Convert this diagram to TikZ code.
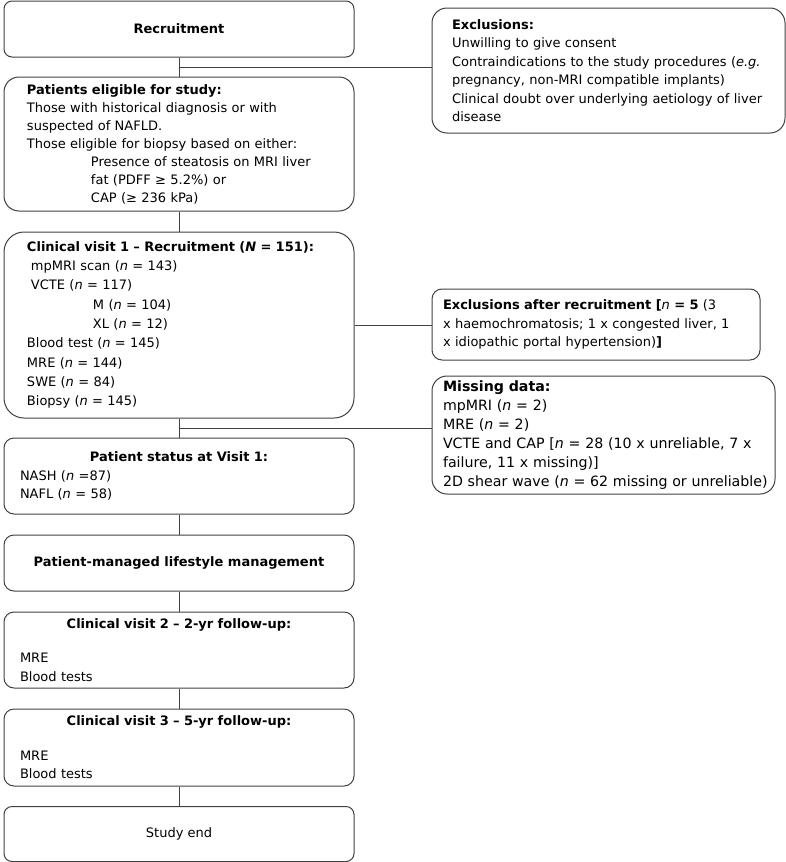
\documentclass[tikz,border=0pt]{standalone}
\usepackage{fontspec}
\setmainfont{DejaVu Sans}
\usetikzlibrary{calc}
\begin{document}
\begin{tikzpicture}[x=1pt,y=-1pt,font=\fontsize{13}{18.5}\selectfont,
  box/.style={draw=black!75,line width=1pt,rounded corners=#1,minimum width=350pt,inner sep=0pt,align=left},
  box/.default=10pt,
  link/.style={draw=black!75,line width=1pt}]
\useasboundingbox (0,0) rectangle (786,862);
\node[box=8pt,minimum height=56pt,align=center] (rec) at (179,29) {\textbf{Recruitment}};
\node[box=15pt,minimum height=134pt,text width=304pt,inner xsep=23pt,font=\fontsize{13}{18}\selectfont] (elig) at (179,144) {\textbf{Patients eligible for study:}\\
Those with historical diagnosis or with\\
suspected of NAFLD.\\
Those eligible for biopsy based on either:\\
\hspace*{64pt}Presence of steatosis on MRI liver\\
\hspace*{64pt}fat (PDFF ≥ 5.2\%) or\\
\hspace*{64pt}CAP (≥ 236 kPa)};
\node[box=15pt,minimum width=353pt,minimum height=125pt,text width=313pt,inner xsep=20pt] (excl) at (608.5,70.5) {\textbf{Exclusions:}\\
Unwilling to give consent\\
Contraindications to the study procedures (\textit{e.g.}\\
pregnancy, non-MRI compatible implants)\\
Clinical doubt over underlying aetiology of liver\\
disease};
\node[box=20pt,minimum height=186pt,text width=304pt,inner xsep=23pt,font=\fontsize{13}{19.3}\selectfont] (visit1) at (179,325) {\textbf{Clinical visit 1 – Recruitment (\textit{N} = 151):}\\
\hspace*{4pt}mpMRI scan (\textit{n} = 143)\\
\hspace*{4pt}VCTE (\textit{n} = 117)\\
\hspace*{66pt}M (\textit{n} = 104)\\
\hspace*{66pt}XL (\textit{n} = 12)\\
Blood test (\textit{n} = 145)\\
MRE (\textit{n} = 144)\\
SWE (\textit{n} = 84)\\
Biopsy (\textit{n} = 145)};
\node[box=10pt,minimum width=328pt,minimum height=71pt,text width=306pt,inner xsep=11pt] (exrec) at (596,324.5) {\textbf{Exclusions after recruitment [}\textit{n}\textbf{ = 5} (3\\
x haemochromatosis; 1 x congested liver, 1\\
x idiopathic portal hypertension)\textbf{]}};
\node[box=15pt,minimum width=343pt,minimum height=118pt,text width=321pt,inner xsep=11pt,font=\fontsize{14.2}{19}\selectfont] (miss) at (603.5,435) {\textbf{Missing data:}\\
mpMRI (\textit{n} = 2)\\
MRE (\textit{n} = 2)\\
\mbox{VCTE and CAP [\textit{n} = 28 (10 x unreliable, 7 x}\\
failure, 11 x missing)]\\
\mbox{2D shear wave (\textit{n} = 62 missing or unreliable)}};
\node[box,minimum height=76pt,text width=318pt,inner xsep=16pt] (status) at (179,476) {\makebox[\linewidth]{\textbf{Patient status at Visit 1:}}\\
NASH (\textit{n} =87)\\
NAFL (\textit{n} = 58)};
\node[box,minimum height=56pt,align=center] (life) at (179,563) {\textbf{Patient-managed lifestyle management}};
\node[box,minimum height=76pt,text width=318pt,inner xsep=16pt] (visit2) at (179,650) {\makebox[\linewidth]{\textbf{Clinical visit 2 – 2-yr follow-up:}}\\[16pt]
MRE\\
Blood tests};
\node[box,minimum height=77pt,text width=318pt,inner xsep=16pt] (visit3) at (179,747.5) {\makebox[\linewidth]{\textbf{Clinical visit 3 – 5-yr follow-up:}}\\[16pt]
MRE\\
Blood tests};
\node[box=8pt,minimum height=55pt,align=center] (studyend) at (179,834) {Study end};
\coordinate (j1) at ($(rec.south)!.5!(elig.north)$);
\coordinate (j2) at ($(visit1.south)!.5!(status.north)$);
\draw[link] (rec) -- (elig);
\draw[link] (j1) -- (j1 -| excl.west);
\draw[link] (elig) -- (visit1);
\draw[link] (visit1.east) -- (visit1.east -| exrec.west);
\draw[link] (visit1) -- (status);
\draw[link] (j2) -- (j2 -| miss.west);
\foreach \a/\b in {status/life,life/visit2,visit2/visit3,visit3/studyend}
  \draw[link] (\a) -- (\b);
\end{tikzpicture}
\end{document}
